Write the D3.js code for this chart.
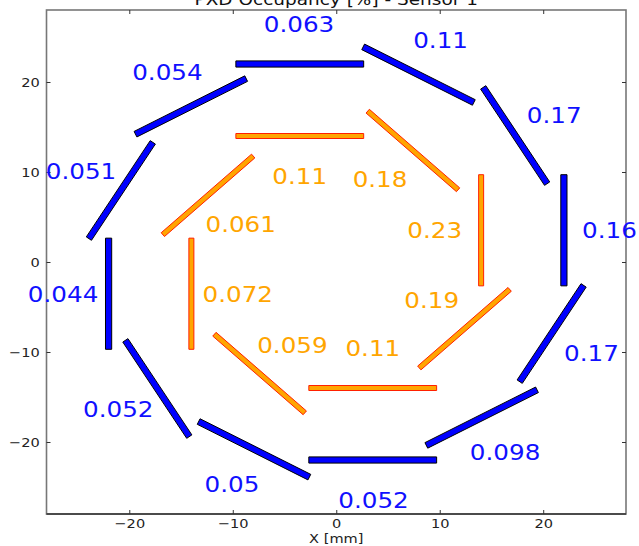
<!DOCTYPE html>
<html>
<head>
<meta charset="utf-8">
<script src="https://cdn.jsdelivr.net/npm/d3@7"></script>
<style>
  body { margin: 0; background: #fff; }
  text { font-family: "DejaVu Sans", sans-serif; }
</style>
</head>
<body>
<svg id="chart" width="639" height="546"></svg>
<script>
// Axis ticks (mm)
const xTicks = [-20, -10, 0, 10, 20];
const yTicks = [-20, -10, 0, 10, 20];

// Outer layer: 12 ladders, normal direction in degrees (clockwise from top)
const layer2Angles = [90, 60, 30, 0, -30, -60, -90, -120, -150, 180, 150, 120];
const layer2Occupancy = [0.063, 0.11, 0.17, 0.16, 0.17, 0.098, 0.052, 0.05, 0.052, 0.044, 0.051, 0.054];

// Inner layer: 8 ladders
const layer1Angles = [90, 45, 0, -45, -90, -135, 180, 135];
const layer1Occupancy = [0.11, 0.18, 0.23, 0.19, 0.11, 0.059, 0.072, 0.061];

// Ladder geometry (mm)
const layer2Radius = 22;
const layer1Radius = 14;
const sensorSpan = [-9.7, 2.65];   // along the ladder, clockwise tangent

const svg = d3.select("#chart");
const plot = { left: 46.5, right: 626, top: 10, bottom: 514 };

const x = d3.scaleLinear().domain([-28, 28]).range([plot.left, plot.right]);
const y = d3.scaleLinear().domain([-28, 28]).range([plot.bottom, plot.top]);

const sx = 1.12; // horizontal text stretch

// Frame
svg.append("rect")
  .attr("x", plot.left).attr("y", plot.top)
  .attr("width", plot.right - plot.left).attr("height", plot.bottom - plot.top)
  .attr("fill", "none").attr("stroke", "#777").attr("stroke-width", 1.6);
svg.append("line")
  .attr("x1", plot.left).attr("x2", plot.right)
  .attr("y1", plot.bottom).attr("y2", plot.bottom)
  .attr("stroke", "#333").attr("stroke-width", 1.6);

function styleAxis(g) {
  g.select(".domain").remove();
  g.selectAll(".tick line").attr("stroke", "#333").attr("stroke-width", 1);
  g.selectAll(".tick text").attr("fill", "#222").style("font-size", "13px")
    .style("font-family", "'DejaVu Sans', sans-serif");
}

svg.append("g").attr("transform", `translate(0,${plot.bottom})`)
  .call(d3.axisBottom(x).tickValues(xTicks).tickSize(-4).tickPadding(5))
  .call(styleAxis)
  .call(g => g.selectAll(".tick text").attr("transform", `scale(${sx},1)`));
svg.append("g").attr("transform", `translate(0,${plot.top})`)
  .call(d3.axisTop(x).tickValues(xTicks).tickSize(-4).tickFormat(""))
  .call(styleAxis);
svg.append("g").attr("transform", `translate(${plot.left},0)`)
  .call(d3.axisLeft(y).tickValues(yTicks).tickSize(-4).tickPadding(6))
  .call(styleAxis)
  .call(g => g.selectAll(".tick text").attr("transform", `scale(${sx},1)`));
svg.append("g").attr("transform", `translate(${plot.right},0)`)
  .call(d3.axisRight(y).tickValues(yTicks).tickSize(-4).tickFormat(""))
  .call(styleAxis);

// Title (runs off the top edge of the canvas) and axis label
svg.append("text")
  .attr("transform", `translate(${(plot.left + plot.right) / 2},4.5) scale(${sx},1)`)
  .attr("text-anchor", "middle").style("font-size", "16.5px").attr("fill", "#111")
  .text("PXD Occupancy [%] - Sensor 1");
svg.append("text")
  .attr("transform", `translate(${(plot.left + plot.right) / 2},543) scale(${sx},1)`)
  .attr("text-anchor", "middle").style("font-size", "13px").attr("fill", "#222")
  .text("X [mm]");

// Build ladder records
function ladders(angles, occ, radius) {
  return angles.map((a, i) => {
    const r = a * Math.PI / 180;
    const c = [radius * Math.cos(r), radius * Math.sin(r)];
    const t = [Math.sin(r), -Math.cos(r)];
    return { c, t, value: occ[i] };
  });
}
const outer = ladders(layer2Angles, layer2Occupancy, layer2Radius);
const inner = ladders(layer1Angles, layer1Occupancy, layer1Radius);

function pointAt(d, s) {
  return [d.c[0] + s * d.t[0], d.c[1] + s * d.t[1]];
}

// Ladder as a rectangle of fixed pixel thickness
function ladderPath(d, half) {
  const a = pointAt(d, sensorSpan[0]), b = pointAt(d, sensorSpan[1]);
  const p1 = [x(a[0]), y(a[1])], p2 = [x(b[0]), y(b[1])];
  const dx = p2[0] - p1[0], dy = p2[1] - p1[1];
  const L = Math.hypot(dx, dy);
  const nx = -dy / L * half, ny = dx / L * half;
  return `M${p1[0] + nx},${p1[1] + ny}L${p2[0] + nx},${p2[1] + ny}` +
         `L${p2[0] - nx},${p2[1] - ny}L${p1[0] - nx},${p1[1] - ny}Z`;
}

svg.append("g").selectAll("path").data(outer).join("path")
  .attr("d", d => ladderPath(d, 3.1))
  .attr("fill", "#0000ff").attr("stroke", "#000").attr("stroke-width", 1);

svg.append("g").selectAll("path").data(inner).join("path")
  .attr("d", d => ladderPath(d, 2.5))
  .attr("fill", "#ffa500").attr("stroke", "#ff2000").attr("stroke-width", 1);

// Occupancy labels
function labelPos(d, s, k) {
  const p = pointAt(d, s);
  return [x(k * p[0]), y(k * p[1])];
}

svg.append("g").selectAll("text").data(outer).join("text")
  .attr("transform", d => { const p = labelPos(d, -3, 1.2); return `translate(${p[0]},${p[1]}) scale(${sx},1)`; })
  .attr("dy", "0.36em").attr("text-anchor", "middle")
  .style("font-size", "22px").attr("fill", "#1010ff")
  .text(d => String(d.value));

svg.append("g").selectAll("text").data(inner).join("text")
  .attr("transform", d => { const p = labelPos(d, -5.2, 0.68); return `translate(${p[0]},${p[1]}) scale(${sx},1)`; })
  .attr("dy", "0.36em").attr("text-anchor", "middle")
  .style("font-size", "22px").attr("fill", "#ffa500")
  .text(d => String(d.value));
</script>
</body>
</html>
